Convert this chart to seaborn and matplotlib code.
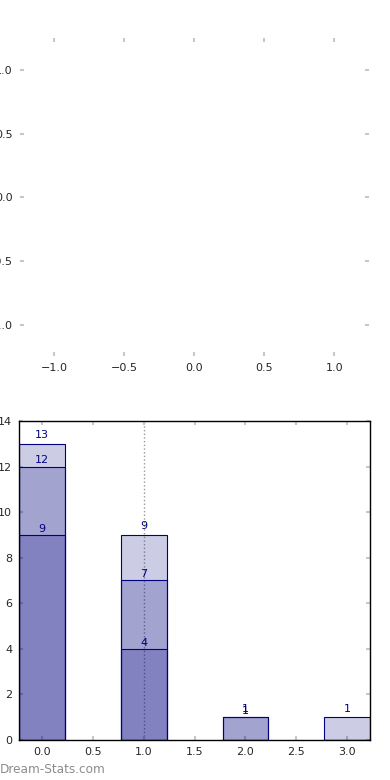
import matplotlib
matplotlib.use('Agg')
import matplotlib.pyplot as plt
import seaborn as sns
import pandas as pd
from matplotlib.ticker import MultipleLocator

# cumulative counts per layer, drawn overlapping from zero
positions = [0, 1, 2, 3]
layer_1 = [9, 4, 0, 0]
layer_2 = [12, 7, 1, 0]
layer_3 = [13, 9, 1, 1]
marker_x = 1.0

sns.set_style('white')
plt.rcParams['font.family'] = ['DejaVu Sans']

fig = plt.figure(figsize=(3.9, 7.8), dpi=100)

# empty top panel (nothing to draw, only ticks)
ax1 = fig.add_axes([0.05, 0.543, 0.897, 0.408])
ax1.set_xlim(-1.25, 1.25)
ax1.set_ylim(-1.25, 1.25)
ax1.set_xticks([-1.0, -0.5, 0.0, 0.5, 1.0])
ax1.set_yticks([-1.0, -0.5, 0.0, 0.5, 1.0])
for s in ax1.spines.values():
    s.set_visible(False)
ax1.tick_params(direction='in', length=3, width=1.5, color='#c8c8c8',
                labelsize=8, top=True, right=True, bottom=True, left=True, pad=5)

# stacked counts panel
ax2 = fig.add_axes([0.049, 0.0513, 0.9, 0.409])
ax2.axvline(marker_x, color='#999999', linestyle=':', linewidth=1, zorder=0.5)
offsets = [0.05, 0.06, 0.16]
for layer, off in zip([layer_1, layer_2, layer_3], offsets):
    df = pd.DataFrame({'pos': positions, 'n': layer})
    sns.barplot(data=df, x='pos', y='n', native_scale=True, width=0.45,
                color='navy', alpha=0.2, edgecolor='navy', linewidth=0.8,
                errorbar=None, ax=ax2, zorder=2)
    for p, v in zip(positions, layer):
        if v > 0:
            ax2.text(p, v + off, str(v), ha='center', va='bottom',
                     color='navy', fontsize=8, zorder=3)

# keep the fill transparent but the edges solid
for patch in ax2.patches:
    patch.set_alpha(None)
    patch.set_facecolor((0, 0, 0.5, 0.2))
    patch.set_edgecolor('navy')

ax2.set_xlim(-0.225, 3.225)
ax2.set_ylim(0, 14)
ax2.xaxis.set_major_locator(MultipleLocator(0.5))
ax2.xaxis.set_major_formatter(matplotlib.ticker.ScalarFormatter())
ax2.set_yticks(range(0, 15, 2))
ax2.set_xlabel('')
ax2.set_ylabel('')
for s in ax2.spines.values():
    s.set_visible(True)
    s.set_color('black')
    s.set_linewidth(1)
ax2.tick_params(direction='in', length=3, width=1.5, color='#c8c8c8',
                labelsize=8, top=True, right=True, bottom=True, left=True, pad=5)

fig.text(0.0, 0.0045, 'Dream-Stats.com', color='#8c8c8c', fontsize=8.7,
         ha='left', va='bottom')

fig.savefig('out.png', dpi=100)
